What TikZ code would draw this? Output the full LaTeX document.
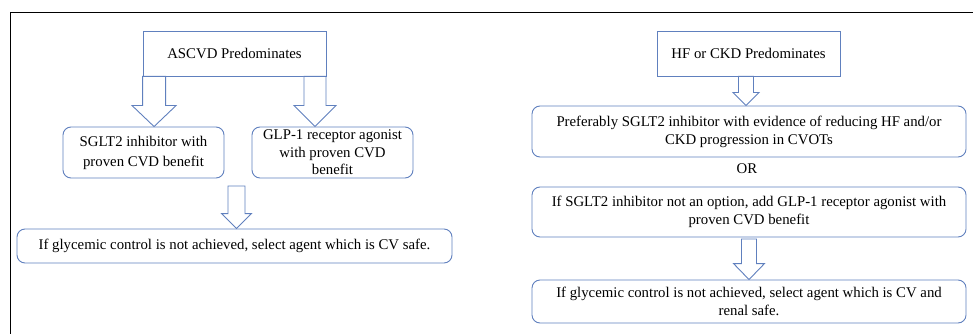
\documentclass[tikz,border=0pt]{standalone}
\usepackage{fontspec}
\setmainfont{Liberation Serif}
\usetikzlibrary{calc}

\definecolor{boxblue}{RGB}{96,128,190}

\tikzset{
  every node/.style={font=\fontsize{14.8}{18}\selectfont},
  plainbox/.style={draw=boxblue, line width=0.9pt, align=center, inner sep=0pt},
  roundbox/.style={plainbox, rounded corners=8pt},
  arrowline/.style={draw=boxblue, line width=0.9pt, fill=white, line join=miter},
}

% Hollow block arrow: #1 top of shaft (centre), #2 tip, #3 shaft half width,
% #4 head half width, #5 head length (all in pt)
\newcommand{\blockarr}[5]{%
  \path[arrowline] let \p1=#1, \p2=#2 in
    (\x1-#3pt,\y1) -- (\x1+#3pt,\y1) -- (\x1+#3pt,\y2+#5pt) -- (\x1+#4pt,\y2+#5pt)
    -- (\x1,\y2) -- (\x1-#4pt,\y2+#5pt) -- (\x1-#3pt,\y2+#5pt) -- cycle;}

\begin{document}
\begin{tikzpicture}[x=1pt, y=-1pt]
  \useasboundingbox (0,0) rectangle (973,334);
  \fill[white] (0,0) rectangle (973,334);

  % outer frame (only top and left edges fall inside the page)
  \draw[line width=1.4pt] (10.5,334) -- (10.5,12.5) -- (973,12.5);

  % ---- left flow: ASCVD ----
  \node[plainbox, minimum width=183pt, minimum height=45pt] (ascvd) at (234.5,53.5) {ASCVD Predominates};
  \node[roundbox, minimum width=161pt, minimum height=51pt, font=\fontsize{14.8}{20}\selectfont]
    (sglt) at (143.5,152.5) {SGLT2 inhibitor with\\proven CVD benefit};
  \node[roundbox, minimum width=161pt, minimum height=51pt, font=\fontsize{14.8}{17.5}\selectfont]
    (glp) at (332.5,152.5) {GLP-1 receptor agonist\\with proven CVD\\benefit};
  \node[roundbox, minimum width=435pt, minimum height=34pt] (lsafe) at (234.5,246)
    {If glycemic control is not achieved, select agent which is CV safe.};

  \coordinate (a1top) at ($(ascvd.south west)+(11.5,0)$);
  \coordinate (a2top) at ($(ascvd.south east)+(-11.5,0)$);
  \blockarr{(a1top)}{(a1top |- sglt.north)}{11.5}{22}{21}
  \blockarr{(a2top)}{(a2top |- glp.north)}{11}{21}{21}
  \coordinate (a3top) at (236.5,186);
  \blockarr{(a3top)}{(a3top |- lsafe.north)}{8.5}{15}{15}

  % ---- right flow: HF or CKD ----
  \node[plainbox, minimum width=183pt, minimum height=45pt] (hf) at (748.5,53.5) {HF or CKD Predominates};
  \node[roundbox, minimum width=434pt, minimum height=51pt] (pref) at (749,131.5)
    {Preferably SGLT2 inhibitor with evidence of reducing HF and/or\\CKD progression in CVOTs};
  \node (ortext) at (747,169) {OR};
  \node[roundbox, minimum width=434pt, minimum height=50pt] (alt) at (749,212)
    {If SGLT2 inhibitor not an option, add GLP-1 receptor agonist with\\proven CVD benefit};
  \node[roundbox, minimum width=434pt, minimum height=43pt] (rsafe) at (749,301.5)
    {If glycemic control is not achieved, select agent which is CV and\\renal safe.};

  \coordinate (b1top) at ($(hf.south)+(-2.5,0)$);
  \blockarr{(b1top)}{(b1top |- pref.north)}{7.5}{13}{13}
  \coordinate (b2top) at ($(alt.south)+(0,1.5)$);
  \blockarr{(b2top)}{(b2top |- rsafe.north)}{7.5}{15.5}{16}
\end{tikzpicture}
\end{document}
